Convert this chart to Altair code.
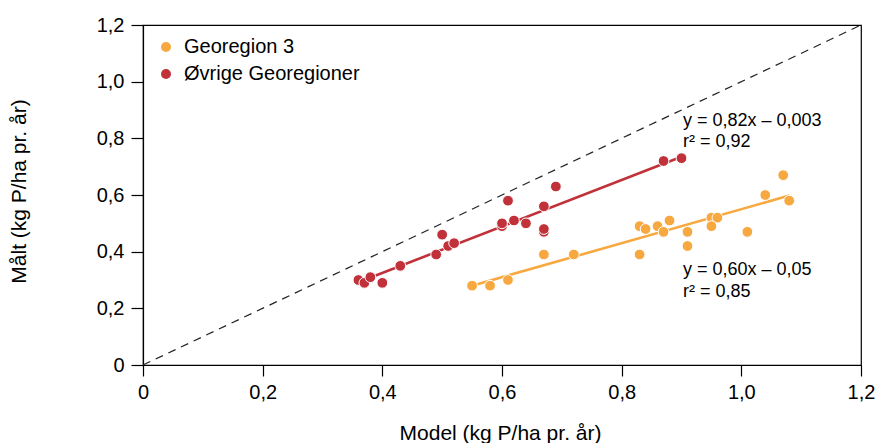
import altair as alt
import pandas as pd

# ---- data ----
groups = ["Georegion 3", "Øvrige Georegioner"]
colors = ["#F7A83F", "#C1313A"]

orange_x = [0.55, 0.58, 0.61, 0.67, 0.72, 0.83, 0.83, 0.84, 0.86, 0.87, 0.88,
            0.91, 0.91, 0.95, 0.96, 0.95, 1.01, 1.04, 1.07, 1.08]
orange_y = [0.28, 0.28, 0.30, 0.39, 0.39, 0.39, 0.49, 0.48, 0.49, 0.47, 0.51,
            0.47, 0.42, 0.52, 0.52, 0.49, 0.47, 0.60, 0.67, 0.58]

red_x = [0.36, 0.37, 0.38, 0.40, 0.43, 0.49, 0.50, 0.51, 0.52, 0.60, 0.60,
         0.61, 0.62, 0.64, 0.67, 0.67, 0.67, 0.69, 0.87, 0.90]
red_y = [0.30, 0.29, 0.31, 0.29, 0.35, 0.39, 0.46, 0.42, 0.43, 0.49, 0.50,
         0.58, 0.51, 0.50, 0.47, 0.48, 0.56, 0.63, 0.72, 0.73]

# regression fits as printed on the chart
fit_slope = [0.60, 0.82]
fit_intercept = [-0.05, -0.003]
fit_x_start = [0.55, 0.36]
fit_x_end = [1.08, 0.90]
eq_lines = ["y = 0,60x – 0,05", "r² = 0,85", "y = 0,82x – 0,003", "r² = 0,92"]

identity_x = [0.0, 1.2]
y_ticks = [0, 0.2, 0.4, 0.6, 0.8, 1.0, 1.2]

# ---- tables ----
pts = pd.DataFrame({
    "x": orange_x + red_x,
    "y": orange_y + red_y,
    "g": [groups[0]] * len(orange_x) + [groups[1]] * len(red_x),
})

fit_rows = []
for i, g in enumerate(groups):
    for xv in (fit_x_start[i], fit_x_end[i]):
        fit_rows.append({"x": xv, "y": fit_slope[i] * xv + fit_intercept[i], "g": g})
fits = pd.DataFrame(fit_rows)

ident = pd.DataFrame({"x": identity_x, "y": identity_x})

# annotation placement (layout, in data units)
ann = pd.DataFrame({
    "x": [0.9025] * 4,
    "y": [0.318, 0.240, 0.844, 0.770],
    "t": eq_lines,
})

FONT = "Liberation Sans"
xs = alt.Scale(domain=[0, 1.2], nice=False)
ys = alt.Scale(domain=[0, 1.2], nice=False)
label_expr = "datum.value == 0 ? '0' : replace(format(datum.value, '.1f'), '.', ',')"

x_axis = alt.Axis(
    title="Model (kg P/ha pr. år)", values=y_ticks, labelExpr=label_expr,
    grid=False, tickSize=11, labelPadding=6, labelFontSize=20, titleFontSize=21,
    titleFontWeight="normal", titleX=357, titleY=74, titleBaseline="alphabetic",
    titleAnchor="middle", titleAlign="center", labelFlush=False,
)
y_axis = alt.Axis(
    title="Målt (kg P/ha pr. år)", values=y_ticks, labelExpr=label_expr,
    grid=False, tickSize=12, labelPadding=7, labelFontSize=20, titleFontSize=21,
    titleFontWeight="normal", titleX=-123.5, titleY=166, titleAngle=-90,
    titleBaseline="middle", titleAlign="center", labelFlush=False,
)

color_scale = alt.Scale(domain=groups, range=colors)
legend = alt.Legend(
    title=None, orient="none", legendX=13, legendY=12, symbolType="circle",
    symbolSize=100, symbolStrokeWidth=0, labelFontSize=20, labelOffset=8,
    rowPadding=7, padding=0, symbolOpacity=1, labelLimit=400,
)

diag = alt.Chart(ident).mark_line(color="#222222", strokeWidth=1.2, strokeDash=[8, 6]).encode(
    x=alt.X("x:Q", scale=xs, axis=x_axis),
    y=alt.Y("y:Q", scale=ys, axis=y_axis),
)

fit_lines = alt.Chart(fits).mark_line(strokeWidth=2.6).encode(
    x=alt.X("x:Q", scale=xs),
    y=alt.Y("y:Q", scale=ys),
    color=alt.Color("g:N", scale=color_scale, legend=legend),
)

points = alt.Chart(pts).mark_point(
    filled=True, shape="circle", size=115, opacity=1, stroke="white", strokeWidth=1
).encode(
    x=alt.X("x:Q", scale=xs),
    y=alt.Y("y:Q", scale=ys),
    color=alt.Color("g:N", scale=color_scale, legend=legend),
)

texts = alt.Chart(ann).mark_text(
    align="left", baseline="alphabetic", fontSize=18, font=FONT, color="black"
).encode(
    x=alt.X("x:Q", scale=xs),
    y=alt.Y("y:Q", scale=ys),
    text="t:N",
)

chart = alt.layer(diag, fit_lines, points, texts).properties(
    width=718, height=340,
    autosize=alt.AutoSizeParams(type="none"),
    padding={"left": 143, "top": 25, "right": 16, "bottom": 78},
).configure(
    font=FONT,
).configure_view(
    stroke="black", strokeWidth=1.2,
).configure_axis(
    domainColor="black", domainWidth=1.2, tickColor="black", tickWidth=1.2,
    labelColor="black", titleColor="black", labelFont=FONT, titleFont=FONT,
    titleFontWeight="normal",
).configure_legend(
    labelFont=FONT, labelColor="black",
)

chart.save("out.html", embed_options={"renderer": "svg", "actions": False})
